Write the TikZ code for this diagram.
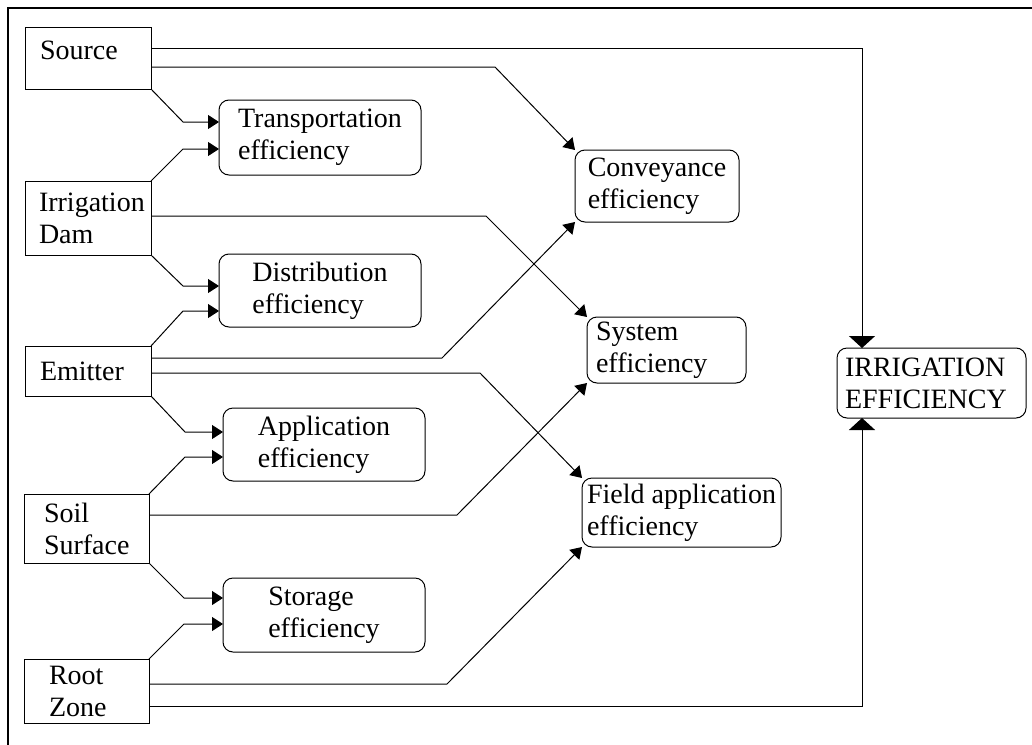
\documentclass[tikz,border=0pt]{standalone}
\usepackage{fontspec}
\setmainfont{Liberation Serif}
\usetikzlibrary{arrows.meta}
\tikzset{
% standard arrow tip
>={Triangle[length=11pt, width=14pt]},
place/.style={draw, align=left, anchor=north west,
  text width=96pt, inner xsep=15pt, inner ysep=2pt,
  font=\fontsize{28}{32}\selectfont},
eff/.style={draw, rounded corners=10pt, align=left, anchor=north west,
  inner xsep=6pt, inner ysep=2pt,
  font=\fontsize{28}{32}\selectfont},
big/.style={-{Triangle[length=12pt, width=26pt]}}
}

\begin{document}
\begin{tikzpicture}[x=1pt, y=1pt, line width=1pt, outer sep=0]
  \useasboundingbox (0,0) rectangle (1032,-744);
  % outer frame, cut by the page on the right and at the bottom
  \draw[line width=1.3pt] (8,-8) rectangle (1040,-752);

  % where the water goes
  \node[place, minimum height=62pt, text depth=15pt] (src) at (25,-27) {Source};
  \node[place, minimum height=74pt, text width=98pt, inner xsep=14pt] (dam) at (25,-181) {Irrigation\\Dam};
  \node[place, minimum height=50pt] (emit) at (25,-346) {Emitter};
  \node[place, minimum height=69pt, text width=85pt, inner xsep=20pt] (soil) at (24,-494) {Soil\\Surface};
  \node[place, minimum height=64pt, text width=75pt, inner xsep=25pt] (root) at (24,-659) {Root\\Zone};

  % partial efficiencies
  \node[eff, minimum width=202pt, minimum height=75pt] (trans) at (219,-100) {Transportation\\efficiency};
  \node[eff, minimum width=202pt, minimum height=73pt] (dist) at (219,-254) {Distribution\\efficiency};
  \node[eff, minimum width=202pt, minimum height=73pt] (appl) at (223,-408) {Application\\efficiency};
  \node[eff, minimum width=202pt, minimum height=74pt] (stor) at (223,-578) {Storage\\efficiency};

  \node[eff, minimum width=164pt, minimum height=72pt] (conv) at (575,-150) {Conveyance\\efficiency};
  \node[eff, text width=141pt, inner xsep=9pt, minimum height=66pt] (sys) at (587,-317) {System\\efficiency};
  \node[eff, minimum width=199pt, inner xsep=4pt, minimum height=69pt] (field) at (582,-478) {Field application\\efficiency};
  \node[eff, text width=173pt, inner xsep=8pt, minimum height=70pt] (irr) at (837,-348) {IRRIGATION\\EFFICIENCY};

  % into the partial efficiencies
  \draw[->] (src.south east) -- ([xshift=-36pt, yshift=15.5pt]trans.west) -- ([yshift=15.5pt]trans.west);
  \draw[->] (dam.north east) -- ([xshift=-36pt, yshift=-11.5pt]trans.west) -- ([yshift=-11.5pt]trans.west);
  \draw[->] (dam.south east) -- ([xshift=-36pt, yshift=4.5pt]dist.west) -- ([yshift=4.5pt]dist.west);
  \draw[->] (emit.north east) -- ([xshift=-36pt, yshift=-20.5pt]dist.west) -- ([yshift=-20.5pt]dist.west);
  \draw[->] (emit.south east) -- ([xshift=-38pt, yshift=12.5pt]appl.west) -- ([yshift=12.5pt]appl.west);
  \draw[->] (soil.north east) -- ([xshift=-38pt, yshift=-12.5pt]appl.west) -- ([yshift=-12.5pt]appl.west);
  \draw[->] (soil.south east) -- ([xshift=-39pt, yshift=17pt]stor.west) -- ([yshift=17pt]stor.west);
  \draw[->] (root.north east) -- ([xshift=-39pt, yshift=-9pt]stor.west) -- ([yshift=-9pt]stor.west);

  % into the overall efficiencies
  \draw[->] ([yshift=-9pt]src.east) -- ++(344,0) -- (conv.north west);
  \draw[->] ([yshift=2pt]dam.east) -- ++(335,0) -- (sys.north west);
  \draw[->] ([yshift=13pt]emit.east) -- ++(291,0) -- (conv.south west);
  \draw[->] ([yshift=-2pt]emit.east) -- ++(329,0) -- (field.north west);
  \draw[->] ([yshift=13.5pt]soil.east) -- ++(308,0) -- (sys.south west);
  \draw[->] ([yshift=7pt]root.east) -- ++(298,0) -- (field.south west);

  \draw[big] ([yshift=10pt]src.east) -| ([xshift=-69.5pt]irr.north);
  \draw[big] ([yshift=-15pt]root.east) -| ([xshift=-69.5pt]irr.south);
\end{tikzpicture}
\end{document}
